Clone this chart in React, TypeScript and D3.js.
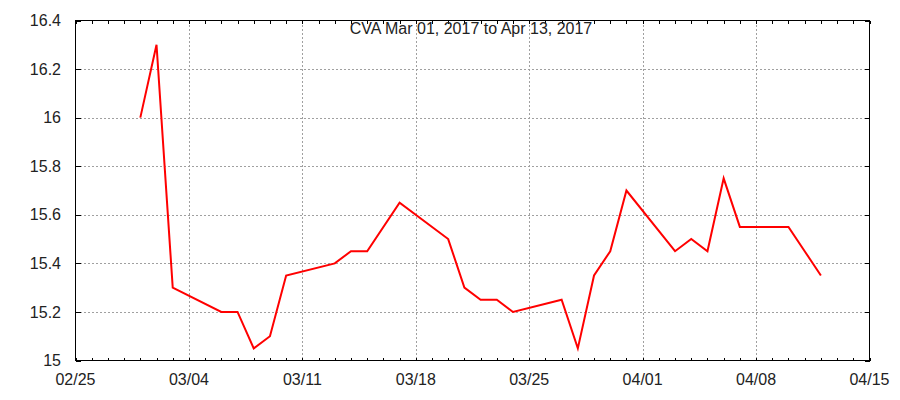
import React from "react";
import * as d3 from "d3";

const title = "CVA Mar 01, 2017 to Apr 13, 2017";
const dates = [
  "2017-03-01", "2017-03-02", "2017-03-03", "2017-03-06", "2017-03-07", "2017-03-08",
  "2017-03-09", "2017-03-10", "2017-03-13", "2017-03-14", "2017-03-15", "2017-03-17",
  "2017-03-20", "2017-03-21", "2017-03-22", "2017-03-23", "2017-03-24", "2017-03-27",
  "2017-03-28", "2017-03-29", "2017-03-30", "2017-03-31", "2017-04-03", "2017-04-04",
  "2017-04-05", "2017-04-06", "2017-04-07", "2017-04-10", "2017-04-11", "2017-04-12",
];
const values = [
  16.0, 16.3, 15.3, 15.2, 15.2, 15.05,
  15.1, 15.35, 15.4, 15.45, 15.45, 15.65,
  15.5, 15.3, 15.25, 15.25, 15.2, 15.25,
  15.05, 15.35, 15.45, 15.7, 15.45, 15.5,
  15.45, 15.75, 15.55, 15.55, 15.45, 15.35,
];
const xTickLabels = ["02/25", "03/04", "03/11", "03/18", "03/25", "04/01", "04/08", "04/15"];
const yTicks = [15, 15.2, 15.4, 15.6, 15.8, 16, 16.2, 16.4];

const W = 900, H = 400;
const L = 75.5, R = 869.5, T = 20.5, B = 360.5;

const parse = d3.utcParse("%Y-%m-%d");
const xMin = parse("2017-02-25")!;
const xMax = parse("2017-04-15")!;

export default function App() {
  const x = d3.scaleUtc().domain([xMin, xMax]).range([L, R]);
  const y = d3.scaleLinear().domain([15, 16.4]).range([B, T]);
  const pts = dates.map((d, i) => [parse(d)!, values[i]] as [Date, number]);
  const line = d3.line<[Date, number]>().x(d => x(d[0])).y(d => y(d[1]));
  const majors = d3.utcDay.range(xMin, d3.utcDay.offset(xMax, 1), 7);
  const minors = d3.utcDay.range(xMin, d3.utcDay.offset(xMax, 1), 1);
  const fmt = d3.utcFormat("%m/%d");
  const font = "'Liberation Sans', Arial, sans-serif";
  return (
    <svg width={W} height={H} style={{ position: "absolute", left: 0, top: 0, background: "#fff" }}>
      <rect x={0} y={0} width={W} height={H} fill="#fff" />
      <g stroke="#a0a0a0" strokeWidth={1} strokeDasharray="2,2" shapeRendering="crispEdges">
        {majors.slice(1, -1).map((d, i) => (
          <line key={"vg" + i} x1={Math.round(x(d)) + 0.5} x2={Math.round(x(d)) + 0.5} y1={T} y2={B} />
        ))}
        {yTicks.slice(1, -1).map((v, i) => (
          <line key={"hg" + i} x1={L} x2={R} y1={Math.round(y(v)) + 0.5} y2={Math.round(y(v)) + 0.5} />
        ))}
      </g>
      <g stroke="#000" strokeWidth={1} shapeRendering="crispEdges">
        {minors.map((d, i) => {
          const xx = Math.round(x(d)) + 0.5;
          return (
            <g key={"mt" + i}>
              <line x1={xx} x2={xx} y1={T} y2={T + 3} />
              <line x1={xx} x2={xx} y1={B} y2={B - 3} />
            </g>
          );
        })}
        {yTicks.map((v, i) => {
          const yy = Math.round(y(v)) + 0.5;
          return (
            <g key={"yt" + i}>
              <line x1={L} x2={L + 5} y1={yy} y2={yy} />
              <line x1={R} x2={R - 5} y1={yy} y2={yy} />
            </g>
          );
        })}
        <rect x={L} y={T} width={R - L} height={B - T} fill="none" />
      </g>
      <path d={line(pts) || ""} fill="none" stroke="#ff0000" strokeWidth={2} strokeLinejoin="miter" />
      <g fontFamily={font} fontSize={16} fill="#222">
        {yTicks.map((v, i) => (
          <text key={"yl" + i} x={61} y={y(v)} dy="0.35em" textAnchor="end">{String(+v.toFixed(1))}</text>
        ))}
        {majors.map((d, i) => (
          <text key={"xl" + i} x={x(d)} y={385} textAnchor="middle">{xTickLabels[i] ?? fmt(d)}</text>
        ))}
        <text x={471} y={34} textAnchor="middle">{title}</text>
      </g>
    </svg>
  );
}
